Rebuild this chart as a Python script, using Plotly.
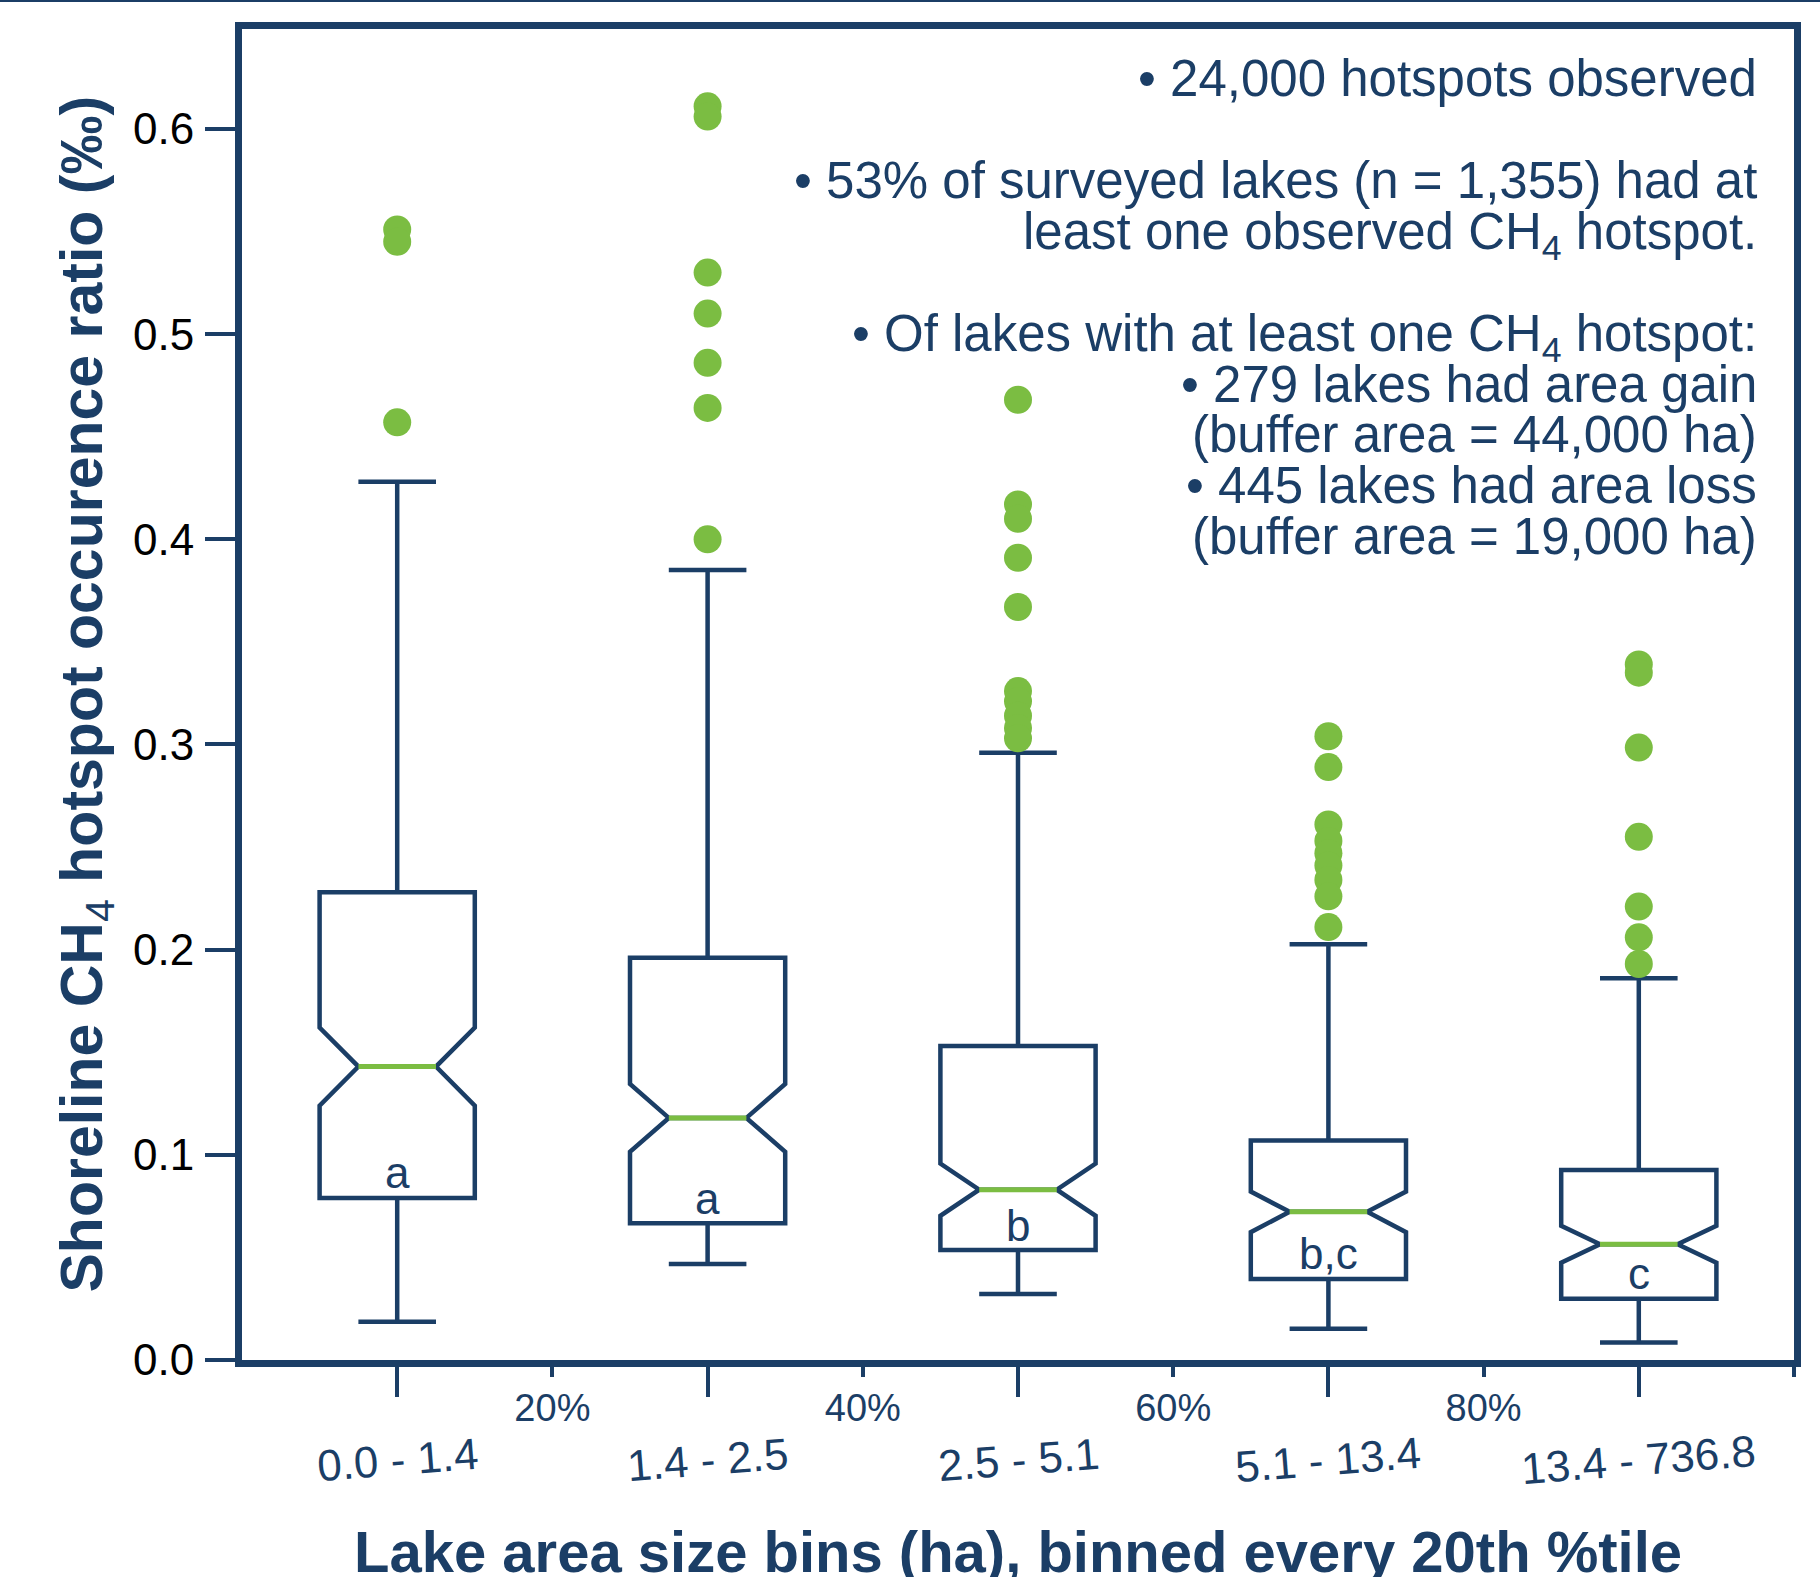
import plotly.graph_objects as go

# ---------------- data ----------------
categories = ["0.0 - 1.4", "1.4 - 2.5", "2.5 - 5.1", "5.1 - 13.4", "13.4 - 736.8"]
bin_edges_pct = [0, 20, 40, 60, 80, 100]
pct_tick_labels = ["20%", "40%", "60%", "80%", "100%"]

lower_whisker = [0.0186, 0.0468, 0.0322, 0.0152, 0.0085]
q1 = [0.0790, 0.0666, 0.0536, 0.0395, 0.0299]
median = [0.1430, 0.1180, 0.0830, 0.0722, 0.0564]
notch_half = [0.0190, 0.0165, 0.0127, 0.0099, 0.0090]
q3 = [0.2280, 0.1960, 0.1530, 0.1070, 0.0926]
upper_whisker = [0.4280, 0.3850, 0.2960, 0.2026, 0.1860]

outliers_bin1 = [0.551, 0.545, 0.457]
outliers_bin2 = [0.611, 0.606, 0.530, 0.510, 0.486, 0.464, 0.400]
outliers_bin3 = [0.468, 0.417, 0.410, 0.391, 0.367, 0.326, 0.321, 0.314, 0.308, 0.303]
outliers_bin4 = [0.304, 0.289, 0.261, 0.253, 0.247, 0.241, 0.234, 0.226, 0.211]
outliers_bin5 = [0.339, 0.335, 0.2985, 0.255, 0.221, 0.206, 0.193]

group_letters = ["a", "a", "b", "b,c", "c"]

x_title = "<b>Lake area size bins (ha), binned every 20th %tile</b>"
y_title = "<b>Shoreline CH</b><sub>4</sub><b> hotspot occurence ratio (\u2030)</b>"

info_lines = [
    "\u2022 24,000 hotspots observed",
    "\u2022 53% of surveyed lakes (n = 1,355) had at",
    "least one observed CH<sub>4</sub> hotspot.",
    "\u2022 Of lakes with at least one CH<sub>4</sub> hotspot:",
    "\u2022 279 lakes had area gain",
    "(buffer area = 44,000 ha)",
    "\u2022 445 lakes had area loss",
    "(buffer area = 19,000 ha)",
]

# ---------------- style / layout ----------------
NAVY = "#1b3e66"
GREEN = "#7bbd42"
FONT = "Liberation Sans, Arial, Helvetica, sans-serif"
W, H = 1820, 1577
ML, MR, MT, MB = 242, 26, 29, 217
PW, PH = W - ML - MR, H - MT - MB
Y_MAX = 0.6487
info_line_px = [79, 180, 231, 333, 384, 434, 485, 536]
info_right_px = 1759
cat_label_px = 1459
x_title_px = 1552
y_title_px = 85
BOX_W = 10

positions = [(a + b) / 2 for a, b in zip(bin_edges_pct[:-1], bin_edges_pct[1:])]
all_outliers = [outliers_bin1, outliers_bin2, outliers_bin3, outliers_bin4, outliers_bin5]

fig = go.Figure()

fig.add_trace(go.Box(
    x=positions, q1=q1, median=median, q3=q3,
    lowerfence=lower_whisker, upperfence=upper_whisker,
    notchspan=notch_half, notched=True, notchwidth=0.25,
    width=BOX_W, whiskerwidth=0.5, boxpoints=False,
    line=dict(color=NAVY, width=4.5), fillcolor="rgba(0,0,0,0)",
    showlegend=False, hoverinfo="skip",
))

# green median segments
mx, my = [], []
for p, m in zip(positions, median):
    mx += [p - BOX_W / 4, p + BOX_W / 4, None]
    my += [m, m, None]
fig.add_trace(go.Scatter(x=mx, y=my, mode="lines", xaxis="x2",
                         line=dict(color=GREEN, width=5),
                         showlegend=False, hoverinfo="skip"))

# outliers
ox, oy = [], []
for p, vals in zip(positions, all_outliers):
    ox += [p] * len(vals)
    oy += vals
fig.add_trace(go.Scatter(x=ox, y=oy, mode="markers", xaxis="x2",
                         marker=dict(color=GREEN, size=28, line=dict(width=0)),
                         showlegend=False, hoverinfo="skip"))

annotations = []
for p, c in zip(positions, categories):
    annotations.append(dict(x=p, xref="x", y=-(cat_label_px - (MT + PH)) / PH, yref="paper",
                            text=c, showarrow=False, textangle=-4.5,
                            xanchor="center", yanchor="middle",
                            font=dict(family=FONT, size=44, color=NAVY)))
for p, q, g in zip(positions, q1, group_letters):
    annotations.append(dict(x=p, xref="x", y=q, yref="y", yshift=25,
                            text=g, showarrow=False, xanchor="center", yanchor="middle",
                            font=dict(family=FONT, size=44, color=NAVY)))
for t, ypx in zip(info_lines, info_line_px):
    annotations.append(dict(x=(info_right_px - ML) / PW, xref="paper",
                            y=(MT + PH - ypx) / PH, yref="paper",
                            yshift=-4 if "<sub>" in t else 0,
                            text=t, showarrow=False, xanchor="right", yanchor="middle",
                            align="right",
                            font=dict(family=FONT, size=51, color=NAVY)))
# axis titles
annotations.append(dict(x=0.5, xref="paper", y=-(x_title_px - (MT + PH)) / PH, yref="paper",
                        text=x_title, showarrow=False, xanchor="center", yanchor="middle",
                        font=dict(family=FONT, size=58, color=NAVY)))
annotations.append(dict(x=(y_title_px - ML) / PW, xref="paper", y=0.5, yref="paper",
                        text=y_title, showarrow=False, textangle=-90,
                        xanchor="center", yanchor="middle",
                        font=dict(family=FONT, size=59, color=NAVY)))

fig.update_layout(
    width=W, height=H,
    margin=dict(l=ML, r=MR, t=MT, b=MB, autoexpand=False),
    paper_bgcolor="white", plot_bgcolor="white",
    font=dict(family=FONT, color=NAVY),
    showlegend=False,
    annotations=annotations,
    shapes=[dict(type="line", xref="paper", yref="paper",
                 x0=-ML / PW, x1=(W - ML) / PW,
                 y0=(MT + PH - 1) / PH, y1=(MT + PH - 1) / PH,
                 line=dict(color=NAVY, width=2))],
    xaxis=dict(range=[0, 100], showline=True, linecolor=NAVY, linewidth=7, mirror=True,
               ticks="outside", tickvals=positions, ticklen=30, tickwidth=4, tickcolor=NAVY,
               showticklabels=False, showgrid=False, zeroline=False),
    xaxis2=dict(range=[0, 100], overlaying="x", anchor="y", side="bottom",
                showline=False, ticks="outside", tickvals=bin_edges_pct[1:],
                ticktext=pct_tick_labels, ticklen=16, tickwidth=4, tickcolor=NAVY,
                ticklabelstandoff=-2,
                tickfont=dict(family=FONT, size=38, color=NAVY),
                showgrid=False, zeroline=False),
    yaxis=dict(range=[0, Y_MAX], showline=True, linecolor=NAVY, linewidth=7, mirror=True,
               ticks="outside", tick0=0, dtick=0.1, tickformat=".1f", ticklen=30,
               tickwidth=4, tickcolor=NAVY, ticklabelstandoff=2,
               tickfont=dict(family=FONT, size=44, color="black"),
               showgrid=False, zeroline=False),
)

fig.write_html("out.html", config={"displayModeBar": False},
               post_script="document.body.style.margin='0px';")
